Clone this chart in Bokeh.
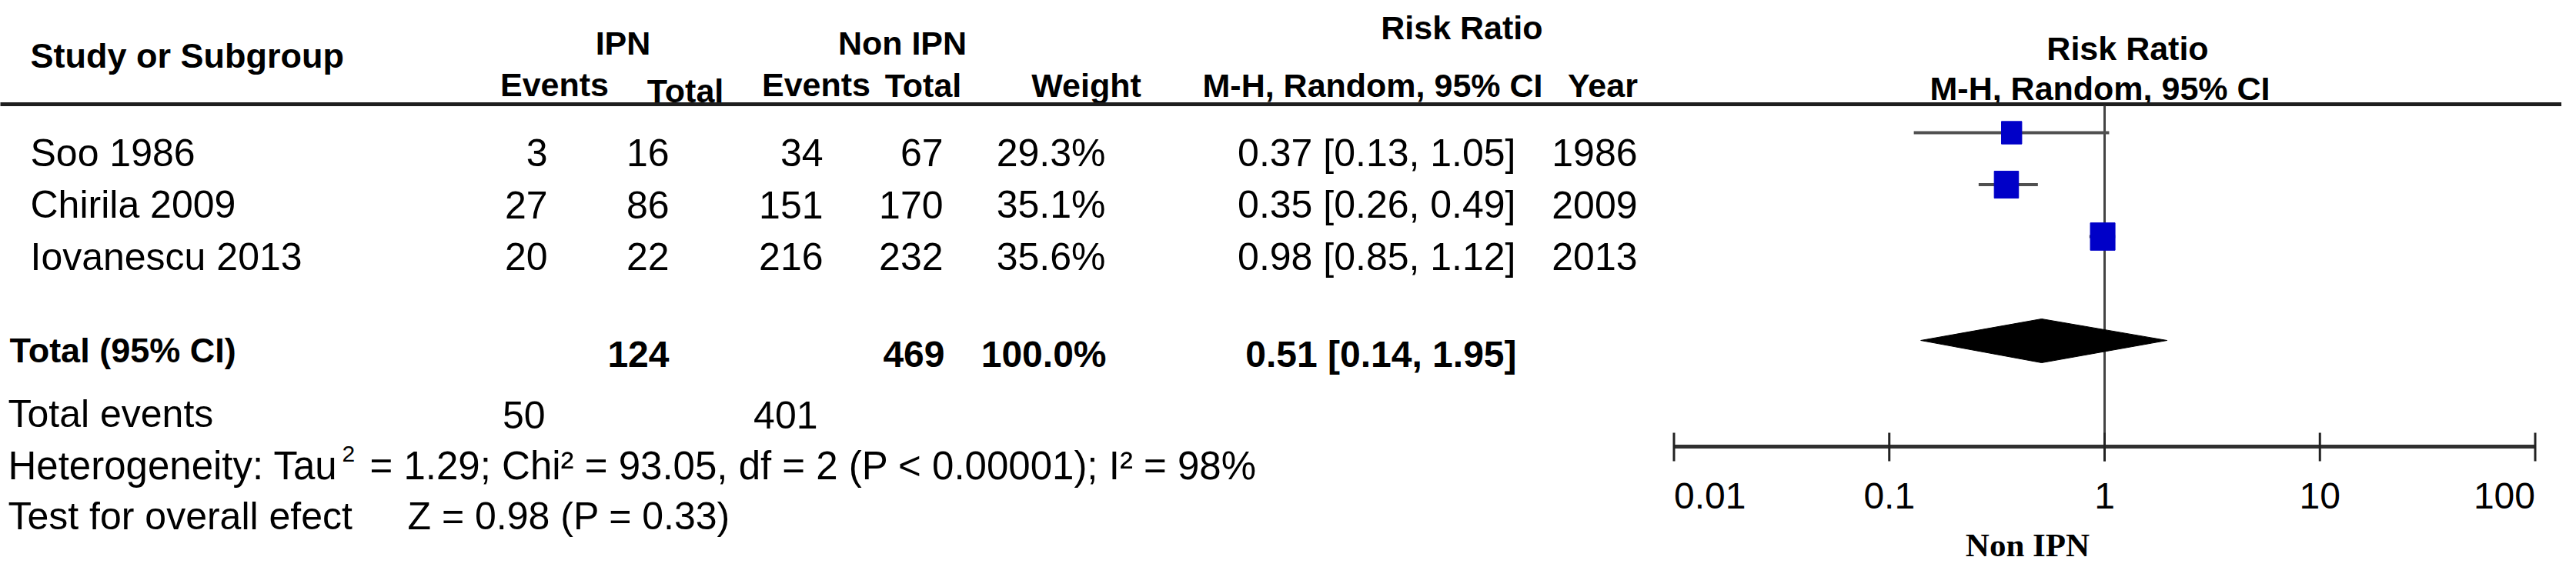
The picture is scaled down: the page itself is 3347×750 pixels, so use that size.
from bokeh.plotting import figure
from bokeh.models import ColumnDataSource, Range1d, LogScale
from bokeh.core.properties import value
from bokeh.embed import file_html
from bokeh.resources import INLINE

# study data
studies = ["Soo 1986", "Chirila 2009", "Iovanescu 2013"]
ipn_events = [3, 27, 20]
ipn_total = [16, 86, 22]
non_events = [34, 151, 216]
non_total = [67, 170, 232]
weight = [29.3, 35.1, 35.6]
rr = [0.37, 0.35, 0.98]
rr_lo = [0.13, 0.26, 0.85]
rr_hi = [1.05, 0.49, 1.12]
years = [1986, 2009, 2013]

# pooled result
tot_ipn, tot_non = 124, 469
tot_weight = 100.0
tot_rr, tot_lo, tot_hi = 0.51, 0.14, 1.95
ev_ipn, ev_non = 50, 401
het_text = "= 1.29; Chi\u00b2 = 93.05, df = 2 (P < 0.00001); I\u00b2 = 98%"
overall_text = "Z = 0.98 (P = 0.33)"

ticks = [0.01, 0.1, 1, 10, 100]
tick_labels = ["0.01", "0.1", "1", "10", "100"]

# layout (page pixels)
M = 8
W, H = 3328, 732
ONE_X = 2742      # pixel of RR = 1
DEC = 279.75      # pixels per decade
FONT = "Liberation Sans"

p = figure(width=W, height=H, x_range=Range1d(M, M + W), y_range=Range1d(M + H, M),
           x_axis_type=None, y_axis_type=None, toolbar_location=None,
           output_backend="svg", min_border=0)
p.outline_line_color = None
p.extra_x_ranges = {"rr": Range1d(10 ** ((M - ONE_X) / DEC), 10 ** ((M + W - ONE_X) / DEC))}
p.extra_x_scales = {"rr": LogScale()}


def txt(x, y, s, size=50, align="left", bold=False, font=FONT, rng="default"):
    p.text(x=x, y=y, text=s, text_font=value(font), text_font_size=f"{size}px",
           text_font_style="bold" if bold else "normal", text_align=align,
           text_baseline="alphabetic", text_color="black", x_range_name=rng)


# headers
txt([47], [80], ["Study or Subgroup"], 45, bold=True)
txt([817, 1180], [63, 63], ["IPN", "Non IPN"], 43, "center", True)
txt([728, 1068], [117, 117], ["Events", "Events"], 43, "center", True)
txt([898, 1207], [125, 118], ["Total", "Total"], 43, "center", True)
txt([1419], [118], ["Weight"], 43, "center", True)
txt([2012, 2012], [43, 118], ["Risk Ratio", "M-H, Random, 95% CI"], 43, "right", True)
txt([2090], [118], ["Year"], 43, "center", True)
txt([2772, 2736], [70, 122], ["Risk Ratio", "M-H, Random, 95% CI"], 43, "center", True)

p.segment(x0=[4], y0=[143], x1=[3336], y1=[143], line_width=5, line_color="#1e1e1e")

# study rows
n = len(studies)
base_y = [206 + 67.5 * i for i in range(n)]
src = ColumnDataSource(dict(
    study=studies,
    e1=[str(v) for v in ipn_events], t1=[str(v) for v in ipn_total],
    e2=[str(v) for v in non_events], t2=[str(v) for v in non_total],
    wt=[f"{v:.1f}%" for v in weight],
    ci=[f"{a:.2f} [{b:.2f}, {c:.2f}]" for a, b, c in zip(rr, rr_lo, rr_hi)],
    yr=[str(v) for v in years],
    y=base_y, my=[v - 26 for v in base_y],
    rr=rr, lo=rr_lo, hi=rr_hi,
    sw=[0.9 * v for v in weight], sh=weight,
))

cols = [("study", 47, "left"), ("e1", 719, "right"), ("t1", 877, "right"),
        ("e2", 1077, "right"), ("t2", 1233, "right"), ("wt", 1444, "right"),
        ("ci", 1977, "right"), ("yr", 2135, "right")]
for field, x, align in cols:
    p.text(x=x, y="y", text=field, source=src, text_font=value(FONT),
           text_font_size="50px", text_align=align, text_baseline="alphabetic",
           text_color="black")

# total row
txt([20], [463], ["Total (95% CI)"], 45, bold=True)
txt([877, 1235, 1445, 1978], [468] * 4,
    [str(tot_ipn), str(tot_non), f"{tot_weight:.1f}%",
     f"{tot_rr:.2f} [{tot_lo:.2f}, {tot_hi:.2f}]"], 48, "right", True)

txt([18], [545], ["Total events"])
txt([716, 1070], [547, 547], [str(ev_ipn), str(ev_non)], 50, "right")
txt([18], [613], ["Heterogeneity: Tau"], 51)
txt([452], [597], ["2"], 30)
txt([488], [613], [het_text], 51)
txt([18, 537], [678, 678], ["Test for overall efect", overall_text])

# forest plot
p.segment(x0=[1], y0=[145], x1=[1], y1=[607], x_range_name="rr",
          line_width=3, line_color="#444444")
p.segment(x0="lo", y0="my", x1="hi", y1="my", source=src, x_range_name="rr",
          line_width=4, line_color="#505050")
p.rect(x="rr", y="my", width="sw", height="sh", width_units="screen",
       height_units="screen", source=src, x_range_name="rr",
       fill_color="#0000c8", line_color="#0000c8")
p.patch(x=[tot_lo, tot_rr, tot_hi, tot_rr], y=[450, 422, 450, 479], x_range_name="rr",
        fill_color="black", line_color="black")

# axis
p.segment(x0=[ticks[0]], y0=[588], x1=[ticks[-1]], y1=[588], x_range_name="rr",
          line_width=5, line_color="#303030")
p.segment(x0=ticks, y0=[570] * len(ticks), x1=ticks, y1=[607] * len(ticks),
          x_range_name="rr", line_width=3, line_color="#222222")
txt(ticks[:1], [652], tick_labels[:1], 48, "left", rng="rr")
txt(ticks[1:-1], [652] * (len(ticks) - 2), tick_labels[1:-1], 48, "center", rng="rr")
txt(ticks[-1:], [652], tick_labels[-1:], 48, "right", rng="rr")
txt([2642], [716], ["Non IPN"], 43, "center", True, "Liberation Serif")

open("out.html", "w").write(file_html(p, INLINE))
